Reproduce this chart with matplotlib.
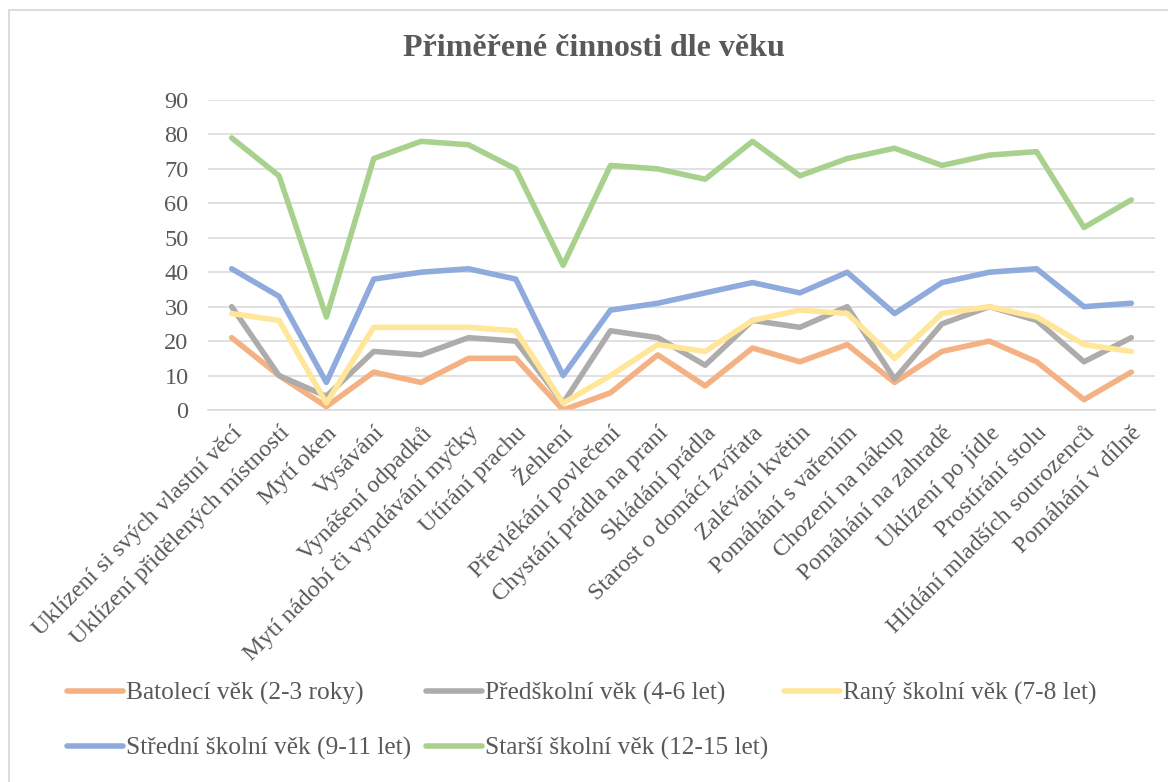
import matplotlib
matplotlib.use("Agg")
import matplotlib.pyplot as plt
from matplotlib.patches import Rectangle
import numpy as np

categories = [
    "Uklízení si svých vlastní věcí",
    "Uklízení přidělených místností",
    "Mytí oken",
    "Vysávání",
    "Vynášení odpadků",
    "Mytí nádobí či vyndávání myčky",
    "Utírání prachu",
    "Žehlení",
    "Převlékání povlečení",
    "Chystání prádla na praní",
    "Skládání prádla",
    "Starost o domácí zvířata",
    "Zalévání květin",
    "Pomáhání s vařením",
    "Chození na nákup",
    "Pomáhání na zahradě",
    "Uklízení po jídle",
    "Prostírání stolu",
    "Hlídání mladších sourozenců",
    "Pomáhání v dílně",
]

series_names = [
    "Batolecí věk (2-3 roky)",
    "Předškolní věk (4-6 let)",
    "Raný školní věk (7-8 let)",
    "Střední školní věk (9-11 let)",
    "Starší školní věk (12-15 let)",
]

batoleci = [21, 10, 1, 11, 8, 15, 15, 0, 5, 16, 7, 18, 14, 19, 8, 17, 20, 14, 3, 11]
predskolni = [30, 10, 4, 17, 16, 21, 20, 2, 23, 21, 13, 26, 24, 30, 9, 25, 30, 26, 14, 21]
rany = [28, 26, 2, 24, 24, 24, 23, 2, 10, 19, 17, 26, 29, 28, 15, 28, 30, 27, 19, 17]
stredni = [41, 33, 8, 38, 40, 41, 38, 10, 29, 31, 34, 37, 34, 40, 28, 37, 40, 41, 30, 31]
starsi = [79, 68, 27, 73, 78, 77, 70, 42, 71, 70, 67, 78, 68, 73, 76, 71, 74, 75, 53, 61]

colors = ["#F4B183", "#AEABAB", "#FFE699", "#8FAADC", "#A9D18E"]

plt.rcParams['font.family'] = ['Liberation Serif', 'DejaVu Serif']
TXT = "#595959"

W, H = 1168, 782
fig = plt.figure(figsize=(W / 100, H / 100), dpi=100)
ax = fig.add_axes([208 / W, 1 - 410 / H, (1155 - 208) / W, (410 - 100) / H])

x = np.arange(len(categories))
all_series = [batoleci, predskolni, rany, stredni, starsi]
handles = []
for vals, name, c in zip(all_series, series_names, colors):
    h, = ax.plot(x, vals, color=c, lw=4.0, solid_capstyle='round',
                 solid_joinstyle='round', label=name)
    handles.append(h)

ax.set_xlim(-0.5, len(categories) - 0.5)
ax.set_ylim(0, 90)
ax.set_yticks(np.arange(0, 91, 10))
ax.grid(axis='y', color='#D9D9D9', lw=1.1)
ax.set_axisbelow(True)
for s in ['top', 'right', 'left']:
    ax.spines[s].set_visible(False)
ax.spines['bottom'].set_color('#D9D9D9')
ax.spines['bottom'].set_linewidth(1.1)
ax.tick_params(axis='both', length=0, labelsize=17.5, labelcolor=TXT)
ax.tick_params(axis='y', pad=14)
ax.tick_params(axis='x', pad=9)
ax.set_xticks(x)
ax.set_xticklabels(categories, rotation=45, ha='right', va='top',
                   rotation_mode='anchor')

fig.text(594 / W, 1 - 49 / H, "Přiměřené činnosti dle věku", ha='center',
         va='center', fontsize=23, fontweight='bold', color=TXT)

order = [0, 3, 1, 4, 2]
leg = fig.legend([handles[i] for i in order], [series_names[i] for i in order],
                 ncol=3, loc='upper left', bbox_to_anchor=(67 / W, 1 - 682 / H),
                 frameon=False, fontsize=18.3, handlelength=2.2,
                 handletextpad=0.12, columnspacing=0.6, labelspacing=1.25,
                 borderaxespad=0, borderpad=0)
for t in leg.get_texts():
    t.set_color(TXT)

fig.patches.append(Rectangle((9 / W, -0.05), 1.1, 1 - 10 / H + 0.05,
                             transform=fig.transFigure, fill=False,
                             edgecolor='#D9D9D9', lw=1.3))

fig.savefig("out.png", dpi=100)
